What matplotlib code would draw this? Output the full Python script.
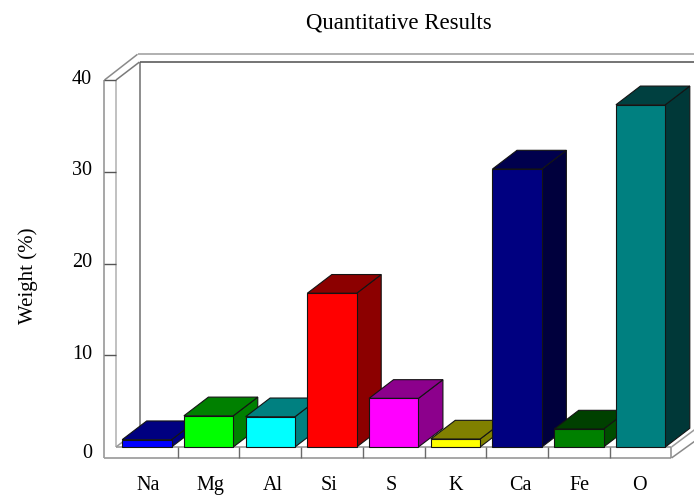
import numpy as np
import matplotlib
matplotlib.use("Agg")
import matplotlib.pyplot as plt
from matplotlib.patches import Polygon
from matplotlib.transforms import ScaledTranslation

elements = ["Na", "Mg", "Al", "Si", "S", "K", "Ca", "Fe", "O"]
weights = [0.8, 3.4, 3.3, 16.76, 5.3, 0.87, 30.3, 1.96, 37.3]
front_colors = ["#0000ff", "#00ff00", "#00ffff", "#ff0000", "#ff00ff",
                "#ffff00", "#000080", "#008000", "#008080"]
top_colors = ["#000080", "#008000", "#008080", "#8c0000", "#8c008c",
              "#808000", "#00004d", "#004000", "#004040"]
side_colors = ["#000080", "#008000", "#008080", "#8c0000", "#8c008c",
               "#808000", "#00003d", "#004d00", "#003838"]
y_ticks = [0, 10, 20, 30, 40]

plt.rcParams["font.family"] = ["Liberation Serif", "DejaVu Serif"]

W, H = 694, 495
fig = plt.figure(figsize=(W / 100, H / 100), dpi=100)
ax = fig.add_axes([116 / W, (H - 447) / H, (W - 116) / W, 367 / H])
ax.set_xlim(-0.5, 8.865)
ax.set_ylim(0, 40)
for s in ax.spines.values():
    s.set_visible(False)

# one pixel in data units, the box depth is set in pixels
PX = 1 / 61.7
PY = 40 / 367
DX = 24.5 * PX
DY = 18.7 * PY
WALL_DX = 23.5 * PX
WALL_DY = 18 * PY
BAR_W = 0.8
FLOOR = -11 * PY
XL, XR = -0.5, 8.5
LEDGE = XL - 11.5 * PX


def line(xs, ys, color, lw=1.1):
    ax.plot(xs, ys, color=color, lw=lw, clip_on=False, solid_capstyle="butt", zorder=1)


# back wall and left wall
line([XL + WALL_DX, XL + WALL_DX], [WALL_DY, 40 + WALL_DY], "#858585", 1.3)
line([XL + WALL_DX, 9], [40 + WALL_DY, 40 + WALL_DY], "#5c5c5c", 1.2)
line([XL, XL + WALL_DX], [40, 40 + WALL_DY], "#7a7a7a")
line([LEDGE, LEDGE + 33 * PX], [40, 40 + 25.7 * PY], "#8a8a8a")
line([LEDGE + 33 * PX, 9], [40 + 25.7 * PY, 40 + 25.7 * PY], "#b0b0b0", 1.4)
line([LEDGE, LEDGE], [FLOOR, 40], "#8f8f8f")
line([XL, XL], [0, 40], "#b0b0b0")

# floor and its front ledge
line([XL, XL + WALL_DX], [0, WALL_DY], "#9a9a9a")
line([XL, XR], [0, 0], "#9a9a9a", 1.2)
line([LEDGE, XR], [FLOOR, FLOOR], "#a0a0a0", 1.3)
line([XR, XR], [FLOOR, 0], "#8a8a8a")
line([XR, 8.9], [0, 18.5 * PY], "#9a9a9a")
line([XR, 8.9], [FLOOR, FLOOR + 17.8 * PY], "#8a8a8a")

# boxes, left to right so each one hides the side of the previous
for i, v in enumerate(weights):
    x0 = i - BAR_W / 2
    x1 = i + BAR_W / 2
    side = Polygon([(x1, 0), (x1 + DX, DY), (x1 + DX, v + DY), (x1, v)],
                   facecolor=side_colors[i], edgecolor="#141414", lw=0.8,
                   clip_on=False, zorder=2 + i)
    top = Polygon([(x0, v), (x1, v), (x1 + DX, v + DY), (x0 + DX, v + DY)],
                  facecolor=top_colors[i], edgecolor="#141414", lw=0.8,
                  clip_on=False, zorder=2 + i)
    ax.add_patch(side)
    ax.add_patch(top)
    ax.bar(i, v, width=BAR_W, color=front_colors[i], edgecolor="#141414", lw=0.8,
           clip_on=False, zorder=2 + i)

# y ticks cross the left ledge, x ticks cross the front ledge
ax.set_yticks(y_ticks)
ax.tick_params(axis="y", length=8.3, width=1.0, color="#555555", pad=9, labelsize=14.5)
ax.yaxis.get_major_ticks()[0].tick1line.set_visible(False)
ax.set_xticks(range(len(elements)))
ax.set_xticklabels(elements)
ax.set_xticks(np.arange(0.5, 8.5, 1), minor=True)
ax.tick_params(axis="x", which="major", length=0, pad=21, labelsize=14.5)
ax.tick_params(axis="x", which="minor", length=8, width=1.0, color="#6a6a6a")

# the labels do not sit exactly on their tick positions
for value, label in zip(y_ticks, ax.get_yticklabels()):
    shift = -4.5 if value == 0 else 3.5
    label.set_transform(label.get_transform() + ScaledTranslation(0, shift / 100, fig.dpi_scale_trans))
label_shift = [1, 2, 3, -3, -2, 0, 3, 1, -1]
for shift, label in zip(label_shift, ax.get_xticklabels()):
    label.set_transform(label.get_transform() + ScaledTranslation(shift / 100, 0, fig.dpi_scale_trans))

fig.text(399 / W, 1 - 23 / H, "Quantitative Results", ha="center", va="center", fontsize=16.4)
fig.text(28 / W, 1 - 276 / H, "Weight (%)", ha="center", va="center", rotation=90, fontsize=15)

fig.savefig("out.png", dpi=100)
